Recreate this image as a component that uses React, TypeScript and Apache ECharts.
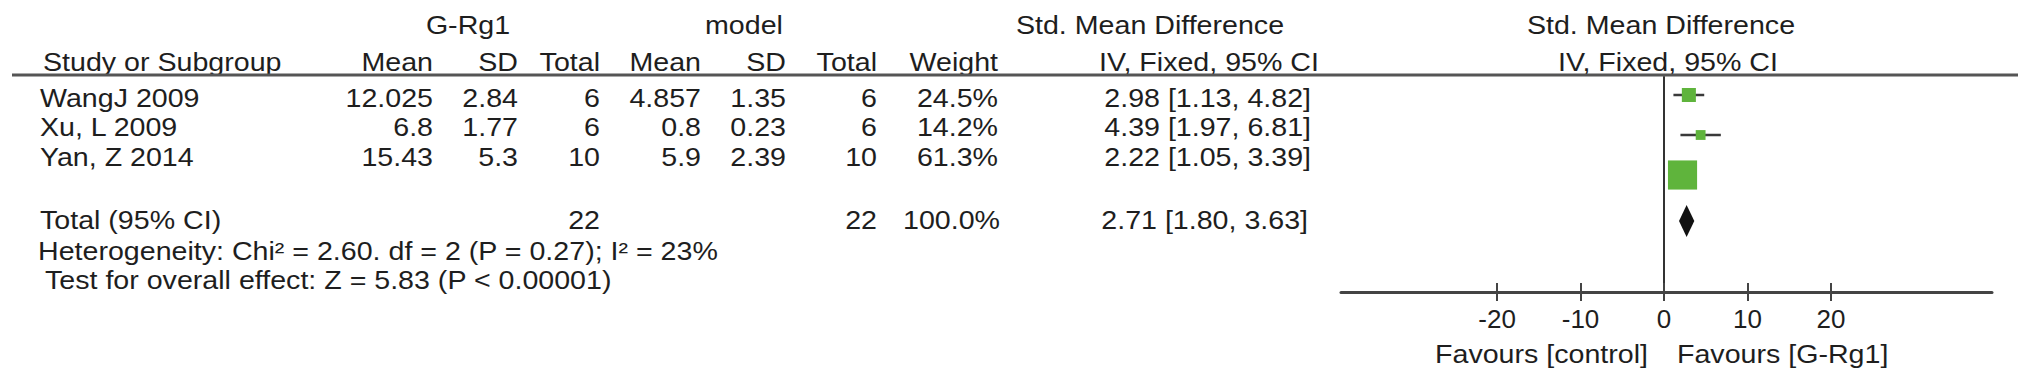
import React, { useEffect, useRef } from "react";
import * as echarts from "echarts";

// ---- data ----
const studies = ["WangJ 2009", "Xu, L 2009", "Yan, Z 2014"];
const expMean = ["12.025", "6.8", "15.43"];
const expSD = ["2.84", "1.77", "5.3"];
const expTotal = [6, 6, 10];
const ctlMean = ["4.857", "0.8", "5.9"];
const ctlSD = ["1.35", "0.23", "2.39"];
const ctlTotal = [6, 6, 10];
const weights = [24.5, 14.2, 61.3];
const smd = [2.98, 4.39, 2.22];
const ciLow = [1.13, 1.97, 1.05];
const ciHigh = [4.82, 6.81, 3.39];
const studyRows = [1, 2, 3];

const totalLabel = "Total (95% CI)";
const totalExp = 22;
const totalCtl = 22;
const totalWeight = 100.0;
const totalSmd = 2.71;
const totalLow = 1.8;
const totalHigh = 3.63;
const totalRow = 4.15;

const heterogeneityText = "Heterogeneity: Chi² = 2.60. df = 2 (P = 0.27); I² = 23%";
const overallText = "Test for overall effect: Z = 5.83 (P < 0.00001)";
const tickValues = [-20, -10, 0, 10, 20];
const axisMin = -38.7;
const axisMax = 39.3;
const favourLeft = "Favours [control]";
const favourRight = "Favours [G-Rg1]";

const FONT = "'Liberation Sans', Arial, Helvetica, sans-serif";
const INK = "#1e1e1e";
const GREEN = "#5fb43c";

function txt(text: string, x: number, y: number, align: string = "left") {
  return {
    type: "text",
    x,
    y,
    scaleX: 1.1,
    silent: true,
    style: {
      text,
      fontSize: 26,
      fontFamily: FONT,
      fill: INK,
      align,
      textAlign: align,
      verticalAlign: "middle",
      textVerticalAlign: "middle",
    },
  };
}

export default function App() {
  const ref = useRef<HTMLDivElement>(null);
  useEffect(() => {
    if (!ref.current) return;
    const chart = echarts.init(ref.current, null, { renderer: "svg" });

    const rowY = [98, 127, 157];
    const graphics: any[] = [];
    // headers
    graphics.push(txt("G-Rg1", 468, 25, "center"));
    graphics.push(txt("model", 744, 25, "center"));
    graphics.push(txt("Std. Mean Difference", 1150, 25, "center"));
    graphics.push(txt("Std. Mean Difference", 1661, 25, "center"));
    graphics.push(txt("Study or Subgroup", 43, 62, "left"));
    graphics.push(txt("Mean", 433, 62, "right"));
    graphics.push(txt("SD", 518, 62, "right"));
    graphics.push(txt("Total", 600, 62, "right"));
    graphics.push(txt("Mean", 701, 62, "right"));
    graphics.push(txt("SD", 786, 62, "right"));
    graphics.push(txt("Total", 877, 62, "right"));
    graphics.push(txt("Weight", 998, 62, "right"));
    graphics.push(txt("IV, Fixed, 95% CI", 1209, 62, "center"));
    graphics.push(txt("IV, Fixed, 95% CI", 1668, 62, "center"));
    graphics.push({
      type: "line",
      silent: true,
      shape: { x1: 12, y1: 75, x2: 2018, y2: 75 },
      style: { stroke: "#555", lineWidth: 3 },
    });
    // rows
    studies.forEach((s, i) => {
      const y = rowY[i];
      graphics.push(txt(s, 40, y, "left"));
      graphics.push(txt(expMean[i], 433, y, "right"));
      graphics.push(txt(expSD[i], 518, y, "right"));
      graphics.push(txt(String(expTotal[i]), 600, y, "right"));
      graphics.push(txt(ctlMean[i], 701, y, "right"));
      graphics.push(txt(ctlSD[i], 786, y, "right"));
      graphics.push(txt(String(ctlTotal[i]), 877, y, "right"));
      graphics.push(txt(weights[i].toFixed(1) + "%", 998, y, "right"));
      graphics.push(
        txt(
          `${smd[i].toFixed(2)} [${ciLow[i].toFixed(2)}, ${ciHigh[i].toFixed(2)}]`,
          1311,
          y,
          "right"
        )
      );
    });
    graphics.push(txt(totalLabel, 40, 220, "left"));
    graphics.push(txt(String(totalExp), 600, 220, "right"));
    graphics.push(txt(String(totalCtl), 877, 220, "right"));
    graphics.push(txt(totalWeight.toFixed(1) + "%", 1000, 220, "right"));
    graphics.push(
      txt(
        `${totalSmd.toFixed(2)} [${totalLow.toFixed(2)}, ${totalHigh.toFixed(2)}]`,
        1308,
        220,
        "right"
      )
    );
    graphics.push(txt(heterogeneityText, 38, 251, "left"));
    graphics.push(txt(overallText, 45, 280, "left"));
    graphics.push(txt(favourLeft, 1648, 354, "right"));
    graphics.push(txt(favourRight, 1677, 354, "left"));

    const boxData = smd.map((v, i) => [v, studyRows[i], weights[i]]);
    const whiskerData = smd.map((_, i) => [ciLow[i], ciHigh[i], studyRows[i]]);

    chart.setOption({
      animation: false,
      backgroundColor: "#fff",
      grid: { left: 1341, right: 39, top: 77, bottom: 94, containLabel: false },
      xAxis: [
        {
          type: "value",
          min: axisMin,
          max: axisMax,
          position: "bottom",
          axisLine: { show: true, onZero: false, lineStyle: { color: "#444", width: 3 } },
          axisTick: {
            show: true,
            length: 9,
            customValues: tickValues,
            lineStyle: { color: "#444", width: 2 },
          },
          axisLabel: {
            show: true,
            customValues: tickValues,
            margin: 14,
            fontSize: 26,
            fontFamily: FONT,
            color: INK,
          },
          splitLine: { show: false },
        },
        {
          type: "value",
          min: axisMin,
          max: axisMax,
          position: "bottom",
          axisLine: { show: false },
          axisTick: {
            show: true,
            inside: true,
            length: 9,
            customValues: tickValues,
            lineStyle: { color: "#444", width: 2 },
          },
          axisLabel: { show: false },
          splitLine: { show: false },
        },
      ],
      yAxis: {
        type: "value",
        inverse: true,
        min: 0.55,
        max: 5.925,
        axisLine: { show: true, onZero: true, lineStyle: { color: "#333", width: 2 } },
        axisTick: { show: false },
        axisLabel: { show: false },
        splitLine: { show: false },
      },
      graphic: graphics,
      series: [
        {
          type: "custom",
          xAxisIndex: 0,
          z: 1,
          data: whiskerData,
          renderItem: (params: any, api: any) => {
            const p1 = api.coord([api.value(0), api.value(2)]);
            const p2 = api.coord([api.value(1), api.value(2)]);
            return {
              type: "line",
              shape: { x1: p1[0], y1: p1[1], x2: p2[0], y2: p2[1] },
              style: { stroke: "#3a3a3a", lineWidth: 2.5 },
            };
          },
          silent: true,
        },
        {
          type: "scatter",
          xAxisIndex: 0,
          z: 5,
          data: boxData,
          symbol: "rect",
          symbolSize: (val: number[]) => 4 + 0.41 * val[2],
          itemStyle: { color: GREEN, opacity: 1 },
          silent: true,
        },
        {
          type: "custom",
          xAxisIndex: 0,
          z: 5,
          data: [[totalLow, totalSmd, totalHigh, totalRow]],
          renderItem: (params: any, api: any) => {
            const pl = api.coord([api.value(0), api.value(3)]);
            const pc = api.coord([api.value(1), api.value(3)]);
            const ph = api.coord([api.value(2), api.value(3)]);
            const h = 16;
            return {
              type: "polygon",
              shape: {
                points: [
                  [pl[0], pl[1]],
                  [pc[0], pc[1] - h],
                  [ph[0], ph[1]],
                  [pc[0], pc[1] + h],
                ],
              },
              style: { fill: "#111" },
            };
          },
          silent: true,
        },
      ],
    });
    return () => chart.dispose();
  }, []);
  return (
    <div
      ref={ref}
      style={{ position: "fixed", left: 0, top: 0, width: 2031, height: 386, background: "#fff" }}
    />
  );
}
